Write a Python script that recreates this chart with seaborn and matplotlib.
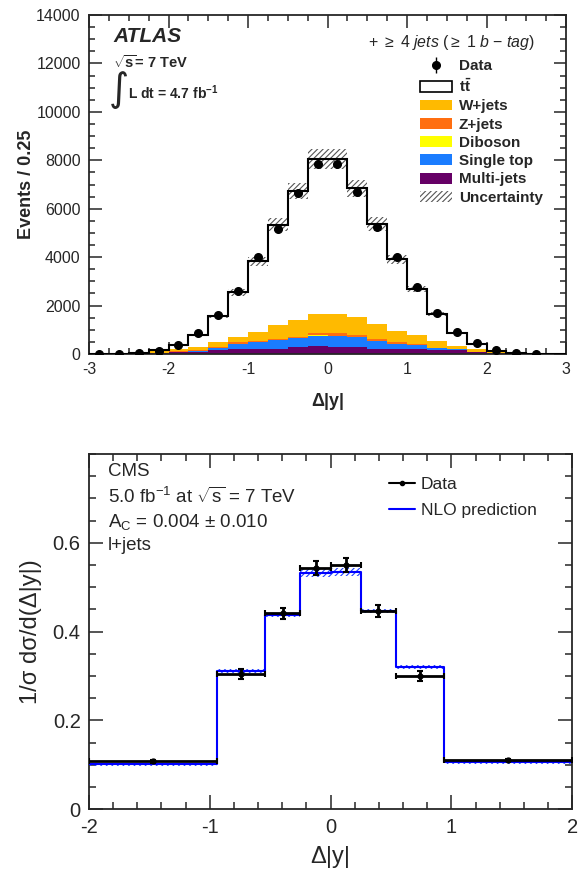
import numpy as np
import pandas as pd
import matplotlib
matplotlib.use("Agg")
import matplotlib.pyplot as plt
import seaborn as sns
from matplotlib.patches import Patch
from matplotlib.lines import Line2D
from matplotlib.ticker import MultipleLocator

# ---------------- data: ATLAS panel ----------------
atlas_edges = [-3.0, -2.75, -2.5, -2.25, -2.0, -1.75, -1.5, -1.25, -1.0, -0.75, -0.5, -0.25,
               0.0, 0.25, 0.5, 0.75, 1.0, 1.25, 1.5, 1.75, 2.0, 2.25, 2.5, 2.75, 3.0]
atlas_centers = [-2.875, -2.625, -2.375, -2.125, -1.875, -1.625, -1.375, -1.125, -0.875, -0.625,
                 -0.375, -0.125, 0.125, 0.375, 0.625, 0.875, 1.125, 1.375, 1.625, 1.875,
                 2.125, 2.375, 2.625, 2.875]
ttbar = [2, 2, 10, 40, 185, 505, 1070, 1835, 2920, 4135, 5325, 6390,
         6400, 5325, 4115, 2940, 1925, 1102, 523, 194, 30, 5, 2, 2]
wjets = [3, 5, 12, 54, 94, 142, 198, 227, 375, 587, 715, 797,
         795, 720, 637, 476, 369, 282, 139, 130, 50, 14, 3, 1]
zjets = [0, 1, 2, 4, 8, 14, 30, 60, 45, 48, 45, 95,
         115, 98, 73, 62, 36, 15, 10, 6, 4, 2, 1, 0]
diboson = [0, 0, 1, 2, 3, 4, 6, 8, 10, 10, 12, 14,
           14, 12, 10, 8, 6, 4, 3, 2, 1, 1, 0, 0]
singletop = [2, 4, 7, 15, 30, 50, 96, 220, 274, 342, 371, 441,
             438, 397, 317, 218, 148, 82, 42, 10, 10, 6, 4, 1]
multijets = [3, 8, 18, 35, 65, 80, 150, 190, 206, 218, 272, 313,
             288, 288, 218, 206, 206, 165, 148, 70, 45, 22, 10, 4]
atlas_unc = [1, 2, 4, 10, 25, 45, 80, 130, 190, 270, 340, 410,
             410, 345, 270, 195, 135, 85, 45, 22, 10, 4, 2, 1]
atlas_data = [10, 10, 50, 135, 370, 865, 1605, 2620, 4000, 5150, 6660, 7850,
              7850, 6670, 5260, 4020, 2760, 1690, 906, 437, 177, 25, 10, 0]
atlas_data_err = [3, 3, 7, 12, 19, 29, 40, 51, 63, 72, 82, 89,
                  89, 82, 73, 63, 53, 41, 30, 21, 13, 5, 3, 0]
samples = ["tt", "W+jets", "Z+jets", "Diboson", "Single top", "Multi-jets"]
sample_colors = ["#FFFFFF", "#FFBA00", "#FF6E10", "#FFFF00", "#1A7CFF", "#660066"]

# ---------------- data: CMS panel ----------------
cms_edges = [-2.0, -0.94, -0.54, -0.25, 0.0, 0.25, 0.54, 0.94, 2.0]
cms_centers = [-1.47, -0.74, -0.395, -0.125, 0.125, 0.395, 0.74, 1.47]
cms_halfw = [0.53, 0.20, 0.145, 0.125, 0.125, 0.145, 0.20, 0.53]
cms_data = [0.108, 0.305, 0.441, 0.543, 0.550, 0.447, 0.300, 0.111]
cms_err = [0.003, 0.012, 0.013, 0.015, 0.015, 0.014, 0.012, 0.003]
cms_nlo = [0.101, 0.311, 0.438, 0.532, 0.534, 0.446, 0.320, 0.106]
cms_nlo_unc = [0.003, 0.004, 0.005, 0.009, 0.009, 0.005, 0.004, 0.003]

# ---------------- style ----------------
sns.set_theme(style="ticks")
plt.rcParams["font.family"] = ["Liberation Sans", "DejaVu Sans"]
plt.rcParams["mathtext.fontset"] = "custom"
plt.rcParams["mathtext.rm"] = "Liberation Sans"
plt.rcParams["mathtext.it"] = "Liberation Sans:italic"
plt.rcParams["mathtext.bf"] = "Liberation Sans:bold"
plt.rcParams["axes.unicode_minus"] = False
plt.rcParams["hatch.linewidth"] = 0.8

W, H = 579, 869
fig = plt.figure(figsize=(W / 100, H / 100), dpi=100)
fx = lambda px: px / W
fy = lambda py: 1 - py / H

ax1 = fig.add_axes([fx(89), fy(354), (566 - 89) / W, (354 - 15) / H])
ax2 = fig.add_axes([fx(89), fy(809.3), (572.3 - 89) / W, (809.3 - 454) / H])

# ---------------- top panel ----------------
comp = {"tt": ttbar, "W+jets": wjets, "Z+jets": zjets, "Diboson": diboson,
        "Single top": singletop, "Multi-jets": multijets}
rows = []
for s in samples:
    for c, v in zip(atlas_centers, comp[s]):
        rows.append({"dy": c, "events": v, "sample": s})
df = pd.DataFrame(rows)
sns.histplot(data=df, x="dy", weights="events", hue="sample", hue_order=samples,
             palette=dict(zip(samples, sample_colors)), bins=atlas_edges,
             multiple="stack", element="step", fill=True, alpha=1, linewidth=0,
             legend=False, ax=ax1)

total = np.sum([np.array(comp[s]) for s in samples], axis=0)
unc = np.array(atlas_unc)
ax1.stairs(total + unc, atlas_edges, baseline=total - unc, fill=True, facecolor="none",
           edgecolor="#555555", hatch="//////", linewidth=0, zorder=3)
ax1.stairs(total, atlas_edges, color="black", linewidth=1.5, zorder=4)

d = np.array(atlas_data, dtype=float)
mask = d > 0
data_art = ax1.errorbar(np.array(atlas_centers)[mask], d[mask], yerr=np.array(atlas_data_err)[mask],
                        fmt="o", color="black", ms=5.5, elinewidth=1, capsize=0, zorder=5)

ax1.set_xlim(-3, 3)
ax1.set_ylim(0, 14000)
ax1.xaxis.set_major_locator(MultipleLocator(1))
ax1.xaxis.set_minor_locator(MultipleLocator(0.25))
ax1.yaxis.set_major_locator(MultipleLocator(2000))
ax1.yaxis.set_minor_locator(MultipleLocator(500))
ax1.tick_params(which="both", direction="in", top=True, right=True, width=1.1, labelsize=11.5)
ax1.tick_params(which="major", length=9, pad=6)
ax1.tick_params(which="minor", length=4.5)
for sp in ax1.spines.values():
    sp.set_linewidth(1.3)
ax1.set_xlabel("Δ|y|", fontsize=13, fontweight="bold", labelpad=11)
ax1.set_ylabel("Events / 0.25", fontsize=13, fontweight="bold", labelpad=1)

fig.text(fx(113), fy(42.5), "ATLAS", fontsize=15, fontweight="bold", fontstyle="italic", va="baseline")
fig.text(fx(113), fy(62), r"$\mathbf{\sqrt{s}}$= 7 TeV", fontsize=10.5, fontweight="bold", va="center")
fig.text(fx(109), fy(90), "∫", fontsize=28, va="center", family=["DejaVu Sans"])
fig.text(fx(128), fy(93), r"L dt = 4.7 fb$^{\mathbf{-1}}$", fontsize=10, fontweight="bold", va="center")
fig.text(fx(368), fy(42), r"+ $\geq$ 4 $\it{jets}$ ($\geq$ 1 $\it{b}$ $-$ $\it{tag}$)",
         fontsize=11.4, va="center")

leg_handles = [data_art,
               Patch(facecolor="white", edgecolor="black", linewidth=1.2),
               Patch(facecolor=sample_colors[1], linewidth=0),
               Patch(facecolor=sample_colors[2], linewidth=0),
               Patch(facecolor=sample_colors[3], linewidth=0),
               Patch(facecolor=sample_colors[4], linewidth=0),
               Patch(facecolor=sample_colors[5], linewidth=0),
               Patch(facecolor="none", edgecolor="#555555", hatch="//////", linewidth=0)]
leg_labels = ["Data", r"t$\mathbf{\bar{t}}$", "W+jets", "Z+jets", "Diboson", "Single top",
              "Multi-jets", "Uncertainty"]
ax1.legend(leg_handles, leg_labels, loc="upper left", bbox_to_anchor=(fx(420), fy(59.5)),
           bbox_transform=fig.transFigure, frameon=False, borderpad=0, borderaxespad=0,
           handlelength=2.1, handleheight=0.72, handletextpad=0.45, labelspacing=0.28,
           prop={"weight": "bold", "size": 11})

# ---------------- bottom panel ----------------
sns.histplot(x=cms_centers, weights=cms_nlo, bins=cms_edges, element="step", fill=False,
             color="#0000FF", linewidth=1.5, ax=ax2, zorder=3)
nlo = np.array(cms_nlo)
nunc = np.array(cms_nlo_unc)
ax2.stairs(nlo + nunc, cms_edges, baseline=nlo - nunc, fill=True, facecolor="none",
           edgecolor="#2040FF", hatch="//////", linewidth=0, zorder=2)
ax2.errorbar(cms_centers, cms_data, xerr=cms_halfw, yerr=cms_err, fmt="o", color="black",
             ms=3.5, elinewidth=2, capsize=2.5, capthick=1.5, zorder=5)

ax2.set_xlim(-2, 2)
ax2.set_ylim(0, 0.8)
ax2.xaxis.set_major_locator(MultipleLocator(1))
ax2.xaxis.set_minor_locator(MultipleLocator(0.2))
ax2.yaxis.set_major_locator(MultipleLocator(0.2))
ax2.yaxis.set_minor_locator(MultipleLocator(0.05))
ax2.set_yticks([0, 0.2, 0.4, 0.6])
ax2.set_yticklabels(["0", "0.2", "0.4", "0.6"])
ax2.set_xticks([-2, -1, 0, 1, 2])
ax2.set_xticklabels(["-2", "-1", "0", "1", "2"])
ax2.tick_params(which="both", direction="in", top=True, right=True, width=1.1, labelsize=14.5)
ax2.tick_params(which="major", length=10, pad=6)
ax2.tick_params(which="minor", length=5)
for sp in ax2.spines.values():
    sp.set_linewidth(1.3)
ax2.set_xlabel("Δ|y|", fontsize=17, labelpad=7)
ax2.set_ylabel("1/σ dσ/d(Δ|y|)", fontsize=17, labelpad=8)

fig.text(fx(108), fy(471.7), "CMS", fontsize=13.5, va="center")
fig.text(fx(108), fy(496.7), r"5.0 fb$^{-1}$ at $\sqrt{\mathregular{s}}$ = 7 TeV", fontsize=13.5, va="center")
fig.text(fx(108), fy(521.7), r"A$_{\mathregular{C}}$ = 0.004 ± 0.010", fontsize=13.5, va="center")
fig.text(fx(108), fy(545), "l+jets", fontsize=13.5, va="center")

leg2_handles = [Line2D([], [], color="black", lw=1.5, marker="o", ms=3),
                Line2D([], [], color="#0000FF", lw=1.5)]
ax2.legend(leg2_handles, ["Data", "NLO prediction"], loc="upper left",
           bbox_to_anchor=(fx(389), fy(477)), bbox_transform=fig.transFigure,
           frameon=False, borderpad=0, borderaxespad=0, handlelength=1.5,
           handletextpad=0.35, labelspacing=0.6, fontsize=12.5)

fig.savefig("out.png", dpi=100)
